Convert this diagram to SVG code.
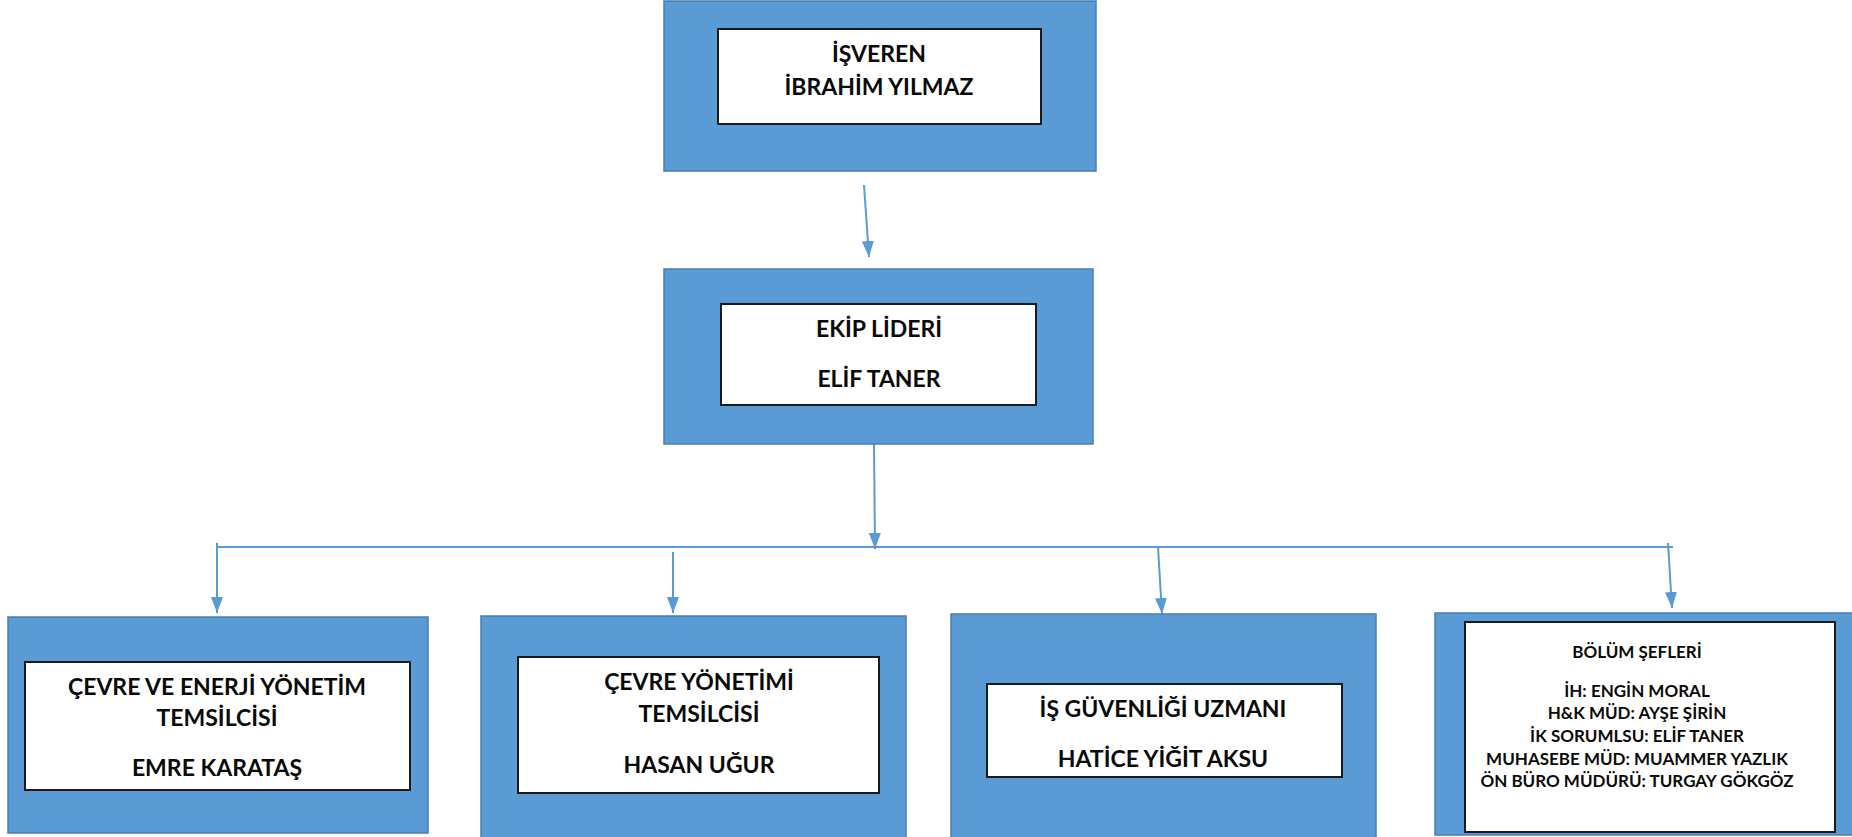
<svg xmlns="http://www.w3.org/2000/svg" width="1852" height="837" viewBox="0 0 1852 837">
<style>
.outer{fill:#5B9BD5;stroke:#4A7EB0;stroke-width:1.5}
.inner{fill:#FFFFFF;stroke:#1A1A1A;stroke-width:2}
.t{font-family:Lato,"Liberation Sans",sans-serif;font-weight:bold;font-size:23px;fill:#0A0A0A;text-anchor:middle}
.s{font-size:17px}
.c{fill:none;stroke:#5B9BD5;stroke-width:2}
</style>
<defs>
<marker id="ar" viewBox="0 0 16 12" refX="16" refY="6" markerWidth="16" markerHeight="12" markerUnits="userSpaceOnUse" orient="auto">
<path d="M0,0 L16,6 L0,12 Z" fill="#5B9BD5"/>
</marker>
</defs>
<g id="connectors">
<line class="c" x1="864" y1="185" x2="869" y2="257" marker-end="url(#ar)"/>
<line class="c" x1="874" y1="444" x2="875" y2="549" marker-end="url(#ar)"/>
<line class="c" x1="217" y1="547" x2="1673" y2="547"/>
<line class="c" x1="217" y1="543" x2="217" y2="613" marker-end="url(#ar)"/>
<line class="c" x1="673" y1="552" x2="673" y2="613" marker-end="url(#ar)"/>
<line class="c" x1="1158" y1="547" x2="1162" y2="614" marker-end="url(#ar)"/>
<line class="c" x1="1668" y1="543" x2="1672" y2="608" marker-end="url(#ar)"/>
</g>
<g id="isveren">
<rect class="outer" x="664" y="1" width="432" height="170"/>
<rect class="inner" x="718" y="29" width="323" height="95"/>
<text class="t" x="879" y="62">İŞVEREN</text>
<text class="t" x="879" y="95">İBRAHİM YILMAZ</text>
</g>
<g id="ekip-lideri">
<rect class="outer" x="664" y="269" width="429" height="175"/>
<rect class="inner" x="721" y="304" width="315" height="101"/>
<text class="t" x="879" y="337">EKİP LİDERİ</text>
<text class="t" x="879" y="387">ELİF TANER</text>
</g>
<g id="cevre-enerji">
<rect class="outer" x="8" y="617" width="420" height="216"/>
<rect class="inner" x="25" y="662" width="385" height="128"/>
<text class="t" x="217" y="695">ÇEVRE VE ENERJİ YÖNETİM</text>
<text class="t" x="217" y="726">TEMSİLCİSİ</text>
<text class="t" x="217" y="776">EMRE KARATAŞ</text>
</g>
<g id="cevre-yonetimi">
<rect class="outer" x="481" y="616" width="425" height="225"/>
<rect class="inner" x="518" y="657" width="361" height="136"/>
<text class="t" x="699" y="690">ÇEVRE YÖNETİMİ</text>
<text class="t" x="699" y="722">TEMSİLCİSİ</text>
<text class="t" x="699" y="773">HASAN UĞUR</text>
</g>
<g id="is-guvenligi">
<rect class="outer" x="951" y="614" width="425" height="227"/>
<rect class="inner" x="987" y="684" width="355" height="93"/>
<text class="t" x="1163" y="717">İŞ GÜVENLİĞİ UZMANI</text>
<text class="t" x="1163" y="767">HATİCE YİĞİT AKSU</text>
</g>
<g id="bolum-sefleri">
<rect class="outer" x="1435" y="613" width="420" height="222"/>
<rect class="inner" x="1465" y="622" width="370" height="210"/>
<text class="t s" x="1637" y="658">BÖLÜM ŞEFLERİ</text>
<text class="t s" x="1637" y="697">İH: ENGİN MORAL</text>
<text class="t s" x="1637" y="719">H&amp;K MÜD: AYŞE ŞİRİN</text>
<text class="t s" x="1637" y="742">İK SORUMLSU: ELİF TANER</text>
<text class="t s" x="1637" y="765">MUHASEBE MÜD: MUAMMER YAZLIK</text>
<text class="t s" x="1637" y="787">ÖN BÜRO MÜDÜRÜ: TURGAY GÖKGÖZ</text>
</g>
</svg>
